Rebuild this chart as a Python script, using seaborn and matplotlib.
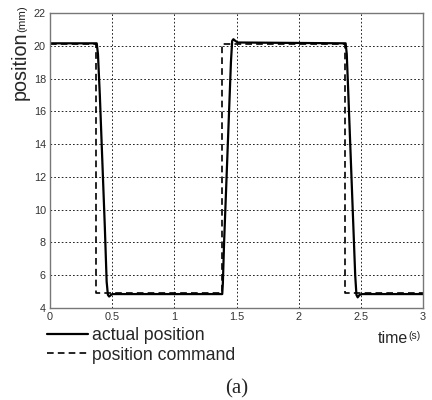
import pandas as pd
import matplotlib.pyplot as plt
import seaborn as sns

# position command (square wave)
cmd_t = [0.0, 0.37, 0.37, 1.38, 1.38, 2.37, 2.37, 3.0]
cmd_y = [20.1, 20.1, 4.9, 4.9, 20.1, 20.1, 4.9, 4.9]

# actual position
act_t = [0.0, 0.375, 0.385, 0.40, 0.42, 0.44, 0.455, 0.465, 0.475, 0.49, 0.50,
         1.385, 1.39, 1.40, 1.42, 1.44, 1.455, 1.465, 1.475, 1.49, 1.51,
         2.378, 2.387, 2.40, 2.42, 2.44, 2.455, 2.465, 2.475, 2.49, 2.51, 3.0]
act_y = [20.15, 20.15, 19.5, 17.0, 13.0, 9.0, 5.6, 4.8, 4.7, 4.8, 4.85,
         4.85, 5.5, 8.0, 12.0, 16.0, 19.0, 20.3, 20.4, 20.3, 20.2,
         20.15, 19.5, 17.0, 13.0, 9.0, 6.0, 4.8, 4.65, 4.8, 4.85, 4.85]

x_ticks = [0, 0.5, 1, 1.5, 2, 2.5, 3]
x_labels = ['0', '0.5', '1', '1.5', '2', '2.5', '3']
y_ticks = [4, 6, 8, 10, 12, 14, 16, 18, 20, 22]

sns.set_style('white')
plt.rcParams['font.family'] = ['Liberation Sans', 'DejaVu Sans']

W, H = 432, 400
fig = plt.figure(figsize=(W / 100, H / 100), dpi=100)
ax = fig.add_axes([0.116, 0.23, 0.863, 0.7375])

df_act = pd.DataFrame({'t': act_t, 'y': act_y})
df_cmd = pd.DataFrame({'t': cmd_t, 'y': cmd_y})
sns.lineplot(data=df_act, x='t', y='y', ax=ax, color='black', lw=1.6,
             sort=False, estimator=None, label='actual position')
sns.lineplot(data=df_cmd, x='t', y='y', ax=ax, color='black', lw=1.2,
             sort=False, estimator=None, label='position command',
             linestyle=(0, (4, 2.5)))

ax.set_xlim(0, 3)
ax.set_ylim(4, 22)
ax.set_xticks(x_ticks)
ax.set_xticklabels(x_labels)
ax.set_yticks(y_ticks)
ax.set_xlabel('')
ax.set_ylabel('')
ax.grid(True, color='black', linestyle=(0, (2, 2.5)), lw=0.6)
ax.tick_params(direction='in', length=3, labelsize=7.8, labelcolor='#333333',
               color='#555555', pad=3)
for s in ax.spines.values():
    s.set_color('#777777')
    s.set_linewidth(1.0)

ax.legend(loc='upper left', bbox_to_anchor=(-0.008, -0.064), frameon=False,
          fontsize=12.7, handlelength=2.3, handletextpad=0.25, labelspacing=0.15,
          borderpad=0, borderaxespad=0)

# axis labels with small units, placed on a shared baseline
fig.text(25.5 / W, 1 - 100 / H, 'position', rotation=90, rotation_mode='anchor',
         fontsize=14.2, ha='left', va='baseline')
fig.text(25.5 / W, 1 - 31.5 / H, '(mm)', rotation=90, rotation_mode='anchor',
         fontsize=8.2, ha='left', va='baseline')
fig.text(378 / W, 1 - 343 / H, 'time', fontsize=11.5, ha='left', va='baseline')
fig.text(408.5 / W, 1 - 339 / H, '(s)', fontsize=7.4, ha='left', va='baseline')

fig.text(237 / W, 1 - 389 / H, '(a)', fontsize=15, ha='center', va='center',
         family=['Liberation Serif', 'DejaVu Serif'])

fig.savefig('out.png', dpi=100)
